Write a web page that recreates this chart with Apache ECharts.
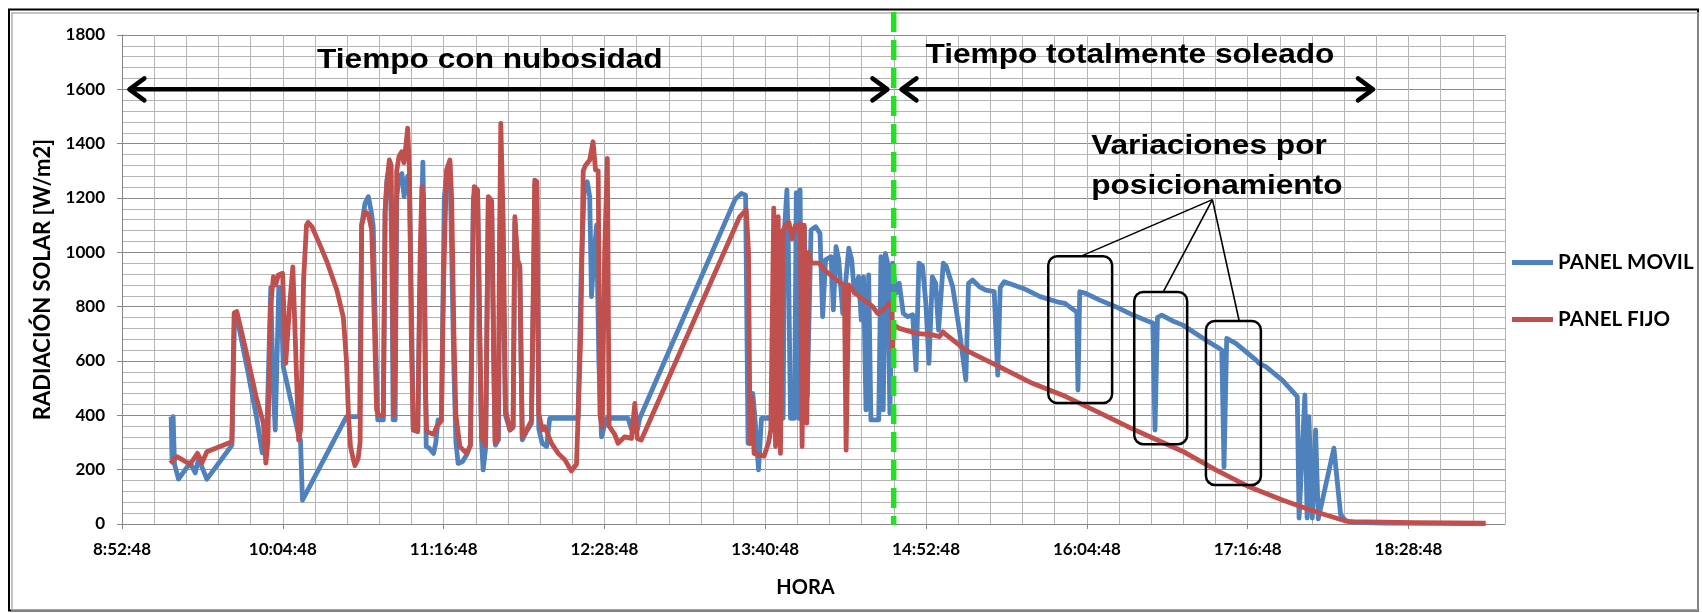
<!DOCTYPE html>
<html><head><meta charset="utf-8">
<script src="https://cdn.jsdelivr.net/npm/echarts@6/dist/echarts.min.js"></script>
<style>html,body{margin:0;padding:0;background:#fff;}#c{width:1702px;height:613px;}</style>
</head><body><div id="c"></div>
<script>
// Horizontal axis: minutes after 8:52:48 (first tick); labels every 72 min
const T0_SECONDS = 8 * 3600 + 52 * 60 + 48;
const xTickStep = 72;
const xMinorStep = 14.4;
const xEnd = 619.2;
const yMax = 1800;
const yStep = 200;
const seriesNames = ['PANEL MOVIL', 'PANEL FIJO'];

// PANEL MOVIL: [minutes after 8:52:48, W/m2]
const movil = [
[22.0,395],[22.4,240],[22.9,395],[23.5,220],[25.3,165],[30.5,225],[32.8,188],[34.3,240],[35.0,235],[38.0,165],[49.2,290],
[50.4,778],[51.4,765],[56.0,575],[60.2,395],[62.8,262],[64.5,262],[65.4,505],[66.6,870],[67.6,520],[68.6,346],[69.4,346],[70.2,872],[71.2,860],[72.2,579],[79.0,330],[79.9,309],[80.8,88],
[100.5,395],[106.4,395],[107.3,1100],[108.8,1180],[110.3,1205],[111.6,1150],[112.5,1094],[113.5,700],[114.5,383],[117.0,383],[117.8,1150],[118.6,1266],[120.0,1330],[120.8,1000],[121.4,383],[122.3,383],[123.0,1200],[124.0,1279],[125.3,1290],[126.3,1205],[127.0,1250],[127.9,1280],[128.8,1200],[129.6,800],[130.4,346],[132.4,346],[133.5,900],[134.7,1332],[135.4,1000],[136.2,285],[137.5,280],[139.5,260],[140.5,300],[141.5,383],[143.0,383],[144.3,1200],[145.5,1300],[146.8,1330],[147.6,1000],[148.5,600],[149.5,300],[150.5,223],[152.5,230],[154.3,255],[156.0,290],[157.3,1200],[158.3,1235],[159.2,1220],[160.3,600],[161.0,300],[161.7,199],[162.8,280],[164.0,1190],[165.5,1180],[166.6,500],[167.2,290],[168.5,310],[169.3,1100],[169.8,1300],[170.7,900],[171.7,400],[173.7,346],[175.1,355],[175.9,1110],[177.1,960],[178.1,940],[179.2,310],[181.1,340],[183.3,370],[184.5,1000],[184.8,1250],[185.7,1240],[186.6,350],[188.1,297],[190.1,285],[191.5,389],[204.2,389],[205.7,960],[207.0,1242],[208.3,1260],[209.4,1205],[210.2,837],[211.4,1000],[212.5,1100],[213.5,600],[214.7,321],[216.9,389],[226.6,389],[228.0,350],[229.6,400],[230.7,345],[231.8,389],
[274.5,1195],[277.3,1217],[279.2,1210],[280.3,297],[281.5,297],[282.4,481],[283.4,389],[285.0,199],[286.3,389],[296.0,389],[296.6,1082],[297.7,1230],[298.3,1033],[299.3,389],[301.1,389],[301.9,1220],[302.5,1150],[303.0,389],[303.6,1230],[304.3,383],[305.5,1094],[306.8,469],[308.5,1082],[310.6,1094],[312.5,1070],[313.7,763],[315.0,972],[317.5,984],[318.5,788],[319.7,1021],[320.9,972],[322.7,775],[325.4,1015],[326.7,972],[327.9,849],[329.8,910],[331.0,751],[332.0,910],[333.1,420],[334.3,917],[335.3,383],[338.8,383],[339.8,984],[340.8,420],[341.8,996],[342.8,960],[343.8,407],[345.0,960],
[346.5,849],[348.0,886],[349.8,775],[351.7,763],[354.0,770],[355.5,567],[356.8,960],[358.4,950],[359.9,812],[361.3,591],[362.8,910],[364.3,886],[365.6,714],[367.7,960],[369.0,950],[371.9,874],[374.9,714],[377.8,530],[379.0,886],[380.8,898],[383.8,874],[386.7,861],[390.5,855],[392.1,548],[393.2,870],[395.0,892],[403.6,867],[411.1,837],[418.6,818],[422.2,812],[427.5,780],[428.0,493],[428.8,855],[431.5,849],[437.5,825],[444.9,800],[452.4,770],[459.8,745],[461.5,740],[462.5,346],[463.6,760],[465.5,769],[471.0,745],[474.8,733],[485.2,677],[491.2,647],[492.4,640],[493.4,210],[494.6,683],[498.7,665],[507.6,604],[509.1,591],[512.1,579],[519.5,530],[526.2,469],[527.0,22],[529.6,475],[530.6,22],[531.4,395],[532.9,22],[534.4,346],[535.6,19],[542.6,279],[545.6,35],[547.8,12],[552,6],[565,3],[590,2],[610.5,1]
];

// PANEL FIJO: [minutes after 8:52:48, W/m2]
const fijo = [
[21.6,223],[24.6,248],[30.5,220],[33.8,260],[35.8,225],[38.0,266],[49.2,303],[50.2,775],[51.4,782],[56.0,620],[60.0,470],[63.3,371],[64.4,224],[65.3,300],[66.5,800],[67.8,910],[68.8,880],[70.0,917],[71.9,923],[72.8,700],[73.3,591],[75.0,800],[76.5,946],[77.5,700],[79.1,309],[80.0,350],[81.3,900],[82.6,1100],[83.3,1110],[85.0,1095],[89.0,1020],[92.0,960],[96.2,861],[99.1,760],[100.5,600],[101.4,400],[102.3,285],[103.5,240],[104.3,215],[105.7,240],[106.6,300],[107.3,1100],[108.8,1150],[110.3,1140],[111.8,1082],[112.8,800],[114.0,420],[114.8,400],[117.0,400],[117.8,1150],[118.6,1254],[119.7,1340],[120.5,1320],[121.2,800],[121.7,400],[122.3,600],[123.0,1300],[124.0,1352],[125.2,1370],[126.2,1330],[127.2,1400],[127.9,1457],[128.7,1300],[129.5,700],[130.4,346],[132.4,340],[133.5,1000],[134.3,1242],[135.0,1200],[135.8,500],[136.4,340],[139.5,330],[141.0,360],[143.0,380],[144.0,900],[145.3,1303],[146.8,1340],[147.6,1200],[148.6,700],[149.5,400],[151.3,285],[154.3,260],[156.0,290],[157.3,1150],[157.7,1242],[159.2,1230],[160.2,700],[161.0,320],[162.8,290],[164.0,1205],[165.5,1190],[166.5,600],[167.0,300],[168.4,310],[169.0,1000],[169.6,1475],[170.7,1100],[171.7,420],[173.7,346],[175.1,360],[175.9,1131],[177.1,972],[178.1,950],[179.2,321],[181.1,346],[183.3,380],[184.2,900],[184.8,1266],[185.7,1260],[186.6,407],[188.1,346],[189.3,358],[192.3,297],[195.3,260],[198.3,236],[201.2,195],[203.5,220],[205.4,700],[206.5,1300],[207.5,1320],[209.4,1340],[210.9,1407],[212.0,1303],[213.2,1300],[214.0,400],[215.0,358],[216.1,1000],[217.3,1346],[218.1,360],[220.6,330],[222.1,297],[225.1,321],[228.1,315],[229.6,444],[230.7,315],[232.5,309],
[276.5,1130],[279.5,1156],[280.5,1000],[281.2,297],[282.0,469],[283.0,260],[285.0,255],[287.5,250],[289.5,300],[290.5,346],[291.8,1163],[292.6,285],[293.8,1131],[294.8,260],[296.0,1082],[297.2,1100],[298.6,1110],[300.0,1050],[301.5,1100],[303.0,1080],[303.7,1107],[304.5,285],[305.4,1100],[306.6,371],[307.5,1000],[308.5,960],[312.2,960],[314.5,935],[318.2,910],[321.9,886],[323.4,880],[324.2,272],[325.4,880],[327.2,860],[330.1,837],[333.0,820],[336.1,800],[338.3,775],[340.6,788],[343.5,812],[344.6,800],[345.0,640],[345.5,733],[348.0,720],[355.5,702],[362.9,696],[366.0,690],[367.5,708],[368.5,700],[377.8,640],[392.7,579],[407.6,518],[422.6,469],[437.5,410],[452.4,350],[460,322],[474.8,268],[489.7,199],[504.6,137],[519.5,88],[534.4,45],[546.4,15],[549.3,9],[579,5],[610.5,3]
];

// Annotations in data coordinates [minutes, W/m2]
const annArrowLevel = 1600;
const annArrowLeft = [3.3, 342.7];
const annArrowRight = [349.0, 560.1];
const annDivider = 345.5;
const annTexts = [
  {text: 'Tiempo con nubosidad', at: [87.3, 1708]},
  {text: 'Tiempo totalmente soleado', at: [359.7, 1726]},
  {text: 'Variaciones por', at: [433.9, 1391]},
  {text: 'posicionamiento', at: [433.9, 1244]}
];
const annBoxes = [
  [[414.7, 986], [443.3, 445]],
  [[453.2, 854], [476.9, 294]],
  [[485.3, 747], [509.9, 144]]
];
const annApex = [488.2, 1194];
const annTargets = [[429.4, 986], [466.2, 854], [500.1, 751]];

function clock(m) {
  const s = Math.round(T0_SECONDS + m * 60);
  const h = Math.floor(s / 3600), mi = Math.floor((s % 3600) / 60), se = s % 60;
  return h + ':' + String(mi).padStart(2, '0') + ':' + String(se).padStart(2, '0');
}

const chart = echarts.init(document.getElementById('c'), null, {renderer: 'canvas'});
const FONT = 'Lato, "Open Sans", sans-serif';
const gridC = '#8a8a8a', minorC = '#b4b4b4';

chart.setOption({
  animation: false,
  backgroundColor: '#fff',
  grid: {left: 122, right: 197, top: 35, bottom: 89, containLabel: false},
  legend: {
    orient: 'vertical', left: 1507, top: 247, padding: 5, itemWidth: 41, itemHeight: 5, itemGap: 36,
    icon: 'rect', data: seriesNames,
    textStyle: {fontFamily: FONT, fontWeight: 'bold', fontSize: 20.5, color: '#000'}
  },
  xAxis: [{
    type: 'value', min: 0, max: xEnd, interval: xTickStep,
    name: 'HORA', nameLocation: 'middle', nameGap: 54,
    nameTextStyle: {fontFamily: FONT, fontWeight: 'bold', fontSize: 20, color: '#000', padding: [0, 16, 0, 0]},
    axisLine: {lineStyle: {color: '#868686'}},
    axisTick: {show: true, length: 5, lineStyle: {color: '#868686'}},
    axisLabel: {formatter: v => clock(v), showMaxLabel: false, margin: 17,
      fontFamily: FONT, fontWeight: 'bold', fontSize: 17, color: '#000'},
    splitLine: {show: true, lineStyle: {color: gridC, width: 1}}
  }, {
    type: 'value', min: 0, max: xEnd, interval: xMinorStep, position: 'bottom',
    axisLine: {show: false}, axisTick: {show: false}, axisLabel: {show: false},
    splitLine: {show: true, lineStyle: {color: minorC, width: 1}}, z: 0
  }],
  yAxis: {
    type: 'value', min: 0, max: yMax, interval: yStep,
    name: 'RADIACIÓN SOLAR [W/m2]', nameLocation: 'middle', nameGap: 68, nameRotate: 90,
    nameTextStyle: {fontFamily: FONT, fontWeight: 'bold', fontSize: 22, color: '#000'},
    axisLine: {show: true, lineStyle: {color: '#868686'}},
    axisTick: {show: true, length: 5, lineStyle: {color: '#868686'}},
    axisLabel: {margin: 17, formatter: v => String(v), fontFamily: FONT, fontWeight: 'bold', fontSize: 17, color: '#000'},
    splitLine: {show: true, lineStyle: {color: gridC}},
    minorTick: {show: false, splitNumber: 5},
    minorSplitLine: {show: true, lineStyle: {color: minorC}}
  },
  series: [
    {name: seriesNames[0], type: 'line', data: movil, xAxisIndex: 0, showSymbol: false, symbol: 'none',
     lineStyle: {color: '#4F81BD', width: 4.8, join: 'round'}, itemStyle: {color: '#4F81BD'}, z: 3},
    {name: seriesNames[1], type: 'line', data: fijo, xAxisIndex: 0, showSymbol: false, symbol: 'none',
     lineStyle: {color: '#C0504D', width: 4.8, join: 'round'}, itemStyle: {color: '#C0504D'}, z: 4}
  ]
});

function px(p) { return chart.convertToPixel({xAxisIndex: 0, yAxisIndex: 0}, p); }
const g = [];
// outer frame
g.push({type: 'rect', shape: {x: 9, y: 9.5, width: 1689, height: 601}, style: {stroke: '#000', fill: 'none', lineWidth: 2}, z: 10});
g.push({type: 'rect', shape: {x: 12, y: 13, width: 1686, height: 597}, style: {stroke: '#b0b0b0', fill: 'none', lineWidth: 1.5}, z: 10});

function arrowPair(range) {
  const a = px([range[0], annArrowLevel]), b = px([range[1], annArrowLevel]);
  const L = 15, W = 11;
  g.push({type: 'line', shape: {x1: a[0] + 2, y1: a[1], x2: b[0] - 2, y2: b[1]}, style: {stroke: '#000', lineWidth: 4.5}, z: 20});
  g.push({type: 'polyline', shape: {points: [[a[0] + L, a[1] - W], [a[0], a[1]], [a[0] + L, a[1] + W]]}, style: {stroke: '#000', lineWidth: 4.5, fill: 'none', lineJoin: 'round', lineCap: 'round'}, z: 20});
  g.push({type: 'polyline', shape: {points: [[b[0] - L, b[1] - W], [b[0], b[1]], [b[0] - L, b[1] + W]]}, style: {stroke: '#000', lineWidth: 4.5, fill: 'none', lineJoin: 'round', lineCap: 'round'}, z: 20});
}
arrowPair(annArrowLeft);
arrowPair(annArrowRight);

const divTop = px([annDivider, yMax]), divBot = px([annDivider, 0]);
g.push({type: 'line', shape: {x1: divTop[0], y1: divTop[1] - 23, x2: divBot[0], y2: divBot[1] + 1}, style: {stroke: '#22e022', lineWidth: 5.5, lineDash: [20, 8]}, z: 30});

annTexts.forEach(t => {
  const p = px(t.at);
  g.push({type: 'text', x: p[0], y: p[1], scaleX: 1.13, z: 25,
    style: {text: t.text, fontFamily: '"Liberation Sans", Arial, sans-serif', fontWeight: 'bold', fontSize: 28, fill: '#000', align: 'left', verticalAlign: 'middle'}});
});
annBoxes.forEach(bx => {
  const a = px(bx[0]), b = px(bx[1]);
  g.push({type: 'rect', shape: {x: a[0], y: a[1], width: b[0] - a[0], height: b[1] - a[1], r: 9}, style: {stroke: '#000', fill: 'none', lineWidth: 2.5}, z: 22});
});
const ap = px(annApex);
annTargets.forEach(tg => {
  const q = px(tg);
  g.push({type: 'line', shape: {x1: ap[0], y1: ap[1], x2: q[0], y2: q[1]}, style: {stroke: '#000', lineWidth: 1.6}, z: 22});
});
chart.setOption({graphic: g});
</script></body></html>
